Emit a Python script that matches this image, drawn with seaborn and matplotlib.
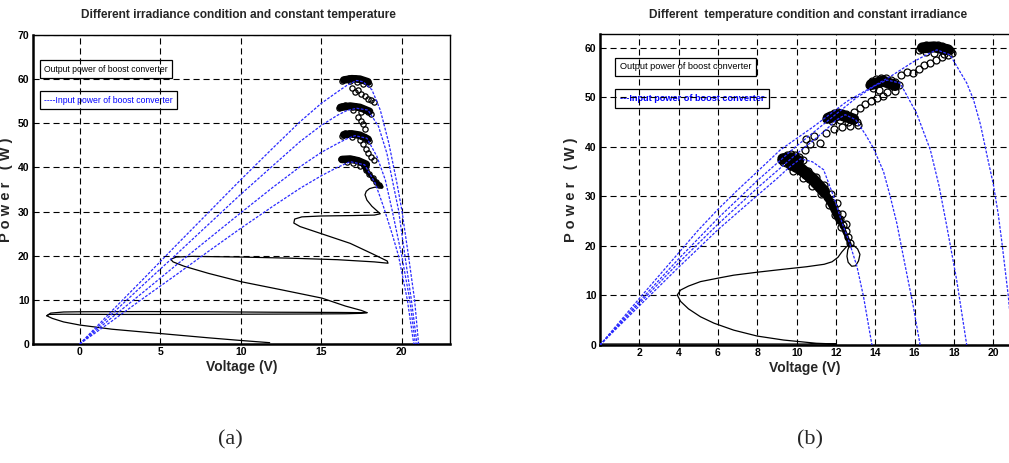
import numpy as np
import pandas as pd
import matplotlib
matplotlib.use("Agg")
import matplotlib.pyplot as plt
import seaborn as sns

# ---------------- (a) different irradiance, constant temperature ----------------
a_v1 = [0, 2, 4, 6, 8, 10, 12, 13.7, 15, 16, 16.6, 17.2, 17.6, 18.15, 18.67, 19.2, 19.7, 20.0, 20.4, 20.8, 21.05]
a_p1 = [0, 7.5, 14.9, 22.4, 29.8, 37.2, 44.4, 50.4, 54.5, 57.1, 58.6, 59.7, 59.4, 57.6, 53.0, 45.5, 36.5, 30.5, 20.5, 10.0, 0]
a_v2 = [0, 2, 4, 6, 8, 10, 12, 13.7, 15, 16, 16.6, 17.2, 17.9, 18.56, 19.08, 19.5, 19.8, 20.2, 20.6, 20.95]
a_p2 = [0, 6.8, 13.6, 20.3, 27.1, 33.9, 40.4, 45.9, 49.5, 51.8, 52.9, 53.4, 53.0, 49.3, 43.2, 35.7, 30.4, 20.0, 10.0, 0]
a_v3 = [0, 2, 4, 6, 8, 10, 12, 13.7, 15, 16, 16.6, 17.1, 17.84, 18.46, 18.98, 19.4, 20.0, 20.5, 20.85]
a_p3 = [0, 6.0, 11.9, 17.9, 23.8, 29.7, 35.5, 40.2, 43.4, 45.4, 46.5, 47.2, 46.6, 42.5, 37.2, 30.4, 20.0, 10.0, 0]
a_v4 = [0, 2, 4, 6, 8, 10, 12, 13.7, 15, 16, 16.8, 17.7, 18.36, 18.87, 19.4, 19.8, 20.35, 20.75]
a_p4 = [0, 5.2, 10.5, 15.7, 21.0, 26.2, 31.2, 35.3, 38.1, 40.0, 41.3, 40.6, 36.4, 31.1, 25.0, 20.0, 10.0, 0]

# output power trajectory (main path)
a_out_v = [11.8, 10, 8, 6, 4, 2, 0, -1.0, -1.7, -2.05, -1.9, -1.0, 2, 6, 10, 14, 16.5, 17.5, 17.85,
           17.5, 16.5, 15.04, 12.5, 10.04, 8, 6.5, 5.8, 5.65, 6.0, 7, 10, 13, 16, 18.3, 19.15,
           19.1, 18.2, 16.8, 15.0, 13.69, 13.3, 13.35, 13.8, 15, 17, 18.3, 18.67,
           18.15, 17.84, 17.72, 17.8, 18.0, 18.3, 18.75]
a_out_p = [0.3, 0.8, 1.4, 2.05, 2.7, 3.35, 4.3, 5.0, 5.8, 6.4, 6.7, 6.75, 6.7, 6.7, 6.75, 6.8, 6.85, 6.95, 7.1,
           7.6, 8.6, 10.4, 12.3, 14.1, 16.0, 17.6, 18.6, 19.2, 19.7, 19.85, 19.7, 19.45, 19.1, 18.6, 18.3,
           18.8, 20.4, 22.8, 25.0, 26.6, 27.4, 28.3, 28.8, 29.0, 29.1, 29.2, 29.5,
           31.2, 32.6, 33.8, 34.6, 35.2, 35.5, 35.6]
# upper edge of the first voltage swing
a_edge_v = [-2.05, -1.8, -1.0, 0, 4, 8, 12, 16, 17.5, 17.85]
a_edge_p = [6.4, 7.0, 7.25, 7.3, 7.35, 7.3, 7.2, 7.15, 7.1, 7.1]

# dense (solid-looking) parts of the output trace near the maximum power points
a_tail_v = [18.75, 18.4, 18.1, 17.8, 17.6]
a_tail_p = [35.6, 36.8, 38.0, 39.3, 40.3]
a_blob_v = [[16.3, 16.8, 17.3, 17.8], [16.4, 16.9, 17.4, 17.9], [16.2, 16.8, 17.4, 18.0], [16.4, 16.9, 17.4, 17.9]]
a_blob_p = [[41.8, 41.9, 41.5, 40.7], [47.4, 47.6, 47.3, 46.4], [53.6, 53.9, 53.6, 52.7], [59.8, 60.1, 60.0, 59.4]]

# circle markers around the maximum power points
a_ring_v = [16.2, 16.4, 16.6, 16.8, 17.0, 17.2, 17.4, 17.6, 17.8, 17.4, 17.0, 16.6,
            18.6, 18.4, 18.2, 18.0, 17.8,
            17.6, 17.8, 17.9, 18.1, 18.3,
            16.3, 16.5, 16.7, 16.9, 17.1, 17.3, 17.5, 17.7, 17.9, 18.0, 17.4, 16.9,
            17.3, 17.5, 17.6, 17.7,
            16.1, 16.3, 16.5, 16.7, 16.9, 17.1, 17.3, 17.5, 17.7, 17.9, 18.1, 17.5, 17.0,
            16.9, 17.1, 17.3, 17.5, 17.7, 17.9, 18.1, 18.25,
            16.3, 16.5, 16.7, 16.9, 17.1, 17.3, 17.5, 17.7, 17.9, 18.0, 17.6, 17.2, 16.8]
a_ring_p = [41.8, 42.0, 42.0, 41.8, 41.8, 41.6, 41.3, 41.0, 40.6, 40.4, 41.0, 41.3,
            36.0, 36.8, 37.6, 38.5, 39.4,
            45.2, 44.2, 43.3, 42.4, 41.6,
            47.2, 47.7, 47.8, 47.6, 47.5, 47.4, 47.1, 46.8, 46.4, 46.0, 46.3, 46.8,
            51.5, 50.6, 49.8, 48.8,
            53.5, 53.9, 54.1, 54.0, 53.8, 53.9, 53.6, 53.4, 53.0, 52.6, 52.2, 52.5, 53.1,
            58.0, 57.2, 57.5, 56.6, 56.2, 55.6, 55.2, 54.8,
            59.6, 60.0, 60.2, 60.1, 60.2, 60.0, 59.9, 59.6, 59.3, 59.0, 58.9, 59.3, 59.5]

# ---------------- (b) different temperature, constant irradiance ----------------
b_v1 = [0, 1, 2, 3, 4, 5, 6, 7, 8, 9.17, 10.86, 12.56, 14.76, 15.94, 16.6, 17.13, 17.8, 18.65, 18.99, 19.35, 19.67, 20.0, 20.25, 20.43, 20.76, 21.0]
b_p1 = [0, 4.7, 9.4, 14.0, 18.6, 23.2, 27.4, 31.3, 35.0, 39.4, 44.1, 49.2, 54.2, 57.2, 58.6, 59.6, 58.6, 52.9, 49.6, 44.5, 38.5, 32.5, 26.5, 21.0, 10.0, 0]
b_v2 = [0, 2, 4, 6, 8, 10, 12, 13, 14, 14.6, 15.26, 16.1, 16.8, 17.25, 17.64, 18.14, 18.65]
b_p2 = [0, 8.8, 17.4, 25.6, 33.2, 40.2, 46.6, 49.8, 52.4, 53.5, 52.9, 46.8, 39.4, 32.0, 23.9, 13.1, 0]
b_v3 = [0, 2, 4, 6, 8, 10, 11, 11.5, 12, 12.47, 13.0, 13.5, 13.9, 14.42, 14.76, 15.1, 15.52, 15.9, 16.28]
b_p3 = [0, 8.4, 16.6, 24.4, 31.7, 38.6, 41.8, 43.5, 45.4, 46.5, 45.5, 42.5, 39.8, 35.0, 30.0, 24.5, 16.0, 8.5, 0]
b_v4 = [0, 2, 4, 6, 8, 9, 9.6, 10.19, 10.8, 11.37, 11.88, 12.3, 12.7, 13.07, 13.4, 13.83]
b_p4 = [0, 7.9, 15.7, 23.3, 30.2, 33.6, 35.8, 37.6, 37.0, 35.4, 30.0, 24.8, 20.5, 15.8, 9.8, 0]

b_out_v = [0, 6, 12.0, 11.0, 9.34, 8, 6.8, 5.8, 5.11, 4.5, 4.1, 3.93, 4.1, 4.5, 5.11, 6, 6.8, 8, 9.34, 10.5,
           11.4, 11.8, 12.1, 12.3, 12.5, 12.64, 12.9, 13.1, 13.22, 13.15, 13.0, 12.8, 12.62, 12.56, 12.6, 12.7]
b_out_p = [0.2, 0.2, 0.2, 0.35, 1.0, 1.8, 3.0, 4.4, 5.7, 7.3, 8.8, 10.1, 11.1, 11.9, 12.8, 13.5, 14.1, 14.7, 15.3, 15.8,
           16.3, 16.8, 17.7, 18.8, 19.7, 20.2, 20.1, 19.4, 18.3, 17.0, 16.0, 15.9, 16.7, 17.9, 19.2, 20.2]

# dense band from the loop up to the first cluster (three widths) and the four clusters
b_band_v = [[12.7, 12.45, 12.2], [12.2, 11.8, 11.4], [11.4, 10.8, 10.2, 9.7]]
b_band_p = [[20.3, 22.8, 25.0], [25.0, 28.2, 31.0], [31.0, 33.6, 35.6, 36.6]]
b_blob_v = [[9.3, 9.7, 10.1], [11.6, 12.2, 12.9], [13.8, 14.4, 15.0], [16.4, 17.0, 17.7]]
b_blob_p = [[37.6, 37.8, 37.2], [45.8, 46.5, 45.6], [52.6, 53.3, 52.4], [60.0, 60.2, 59.6]]

b_ring_v = [9.2, 9.35, 9.5, 9.7, 9.9, 10.1, 10.3, 9.45, 9.75, 10.05, 9.3, 9.6, 9.9,
            12.7, 12.6, 12.5, 12.35, 12.2, 12.05, 11.9, 11.75, 11.55, 11.35, 11.15, 10.9, 10.65, 10.4, 10.15, 9.9, 9.65,
            12.25, 11.95, 11.65, 11.25, 10.8, 10.3, 9.8,
            12.5, 12.3, 12.05, 11.75, 11.4, 11.0, 10.6, 10.2,
            10.4, 10.7, 10.5, 10.9, 11.2, 11.5, 11.9, 12.3, 12.7, 13.1,
            11.5, 11.7, 11.9, 12.1, 12.3, 12.5, 12.7, 12.9, 13.05, 12.6, 12.2, 11.8,
            12.9, 13.2, 13.5, 13.8, 14.1, 14.4,
            13.7, 13.85, 14.05, 14.3, 14.55, 14.8, 15.0, 15.2, 15.0, 14.6, 14.2, 13.9,
            15.3, 15.6, 15.9, 16.2, 16.5, 16.8, 17.1, 17.4, 17.7,
            16.2, 16.4, 16.6, 16.8, 17.0, 17.2, 17.4, 17.6, 17.8, 17.9, 17.5, 17.0, 16.6]
b_ring_p = [37.3, 37.9, 38.4, 38.6, 38.3, 37.9, 37.3, 36.8, 36.6, 36.3, 36.9, 37.5, 37.2,
            20.5, 21.8, 23.0, 24.2, 25.4, 26.6, 27.8, 28.8, 29.8, 30.8, 31.8, 32.7, 33.6, 34.4, 35.1, 35.7, 36.2,
            23.8, 26.2, 28.3, 30.4, 32.2, 33.8, 35.2,
            24.5, 26.5, 28.6, 30.5, 32.3, 33.9, 35.2, 36.0,
            39.3, 40.6, 41.6, 42.3, 40.8, 42.9, 43.6, 44.1, 44.3, 44.5,
            45.7, 46.4, 46.9, 47.1, 46.9, 46.6, 46.2, 45.6, 45.0, 45.1, 45.4, 45.3,
            47.0, 47.8, 48.6, 49.3, 49.8, 50.3,
            52.5, 53.3, 53.8, 54.0, 53.9, 53.6, 53.1, 52.5, 51.3, 51.0, 51.4, 51.9,
            54.5, 55.2, 55.0, 55.8, 56.6, 57.0, 57.6, 58.2, 58.5,
            59.6, 60.2, 60.5, 60.4, 60.3, 60.5, 60.3, 60.0, 59.6, 59.0, 58.8, 59.0, 59.2]

a_xticks = [0, 5, 10, 15, 20]
a_yticks = [0, 10, 20, 30, 40, 50, 60, 70]
b_xticks = [2, 4, 6, 8, 10, 12, 14, 16, 18, 20]
b_yticks = [0, 10, 20, 30, 40, 50, 60]

title_a = "Different irradiance condition and constant temperature"
title_b = "Different  temperature condition and constant irradiance"
xlab = "Voltage (V)"
ylab = "P o w e r   ( W )"
leg_out = "Output power of boost converter"
leg_in_a = "----Input power of boost converter"
leg_in_b = "---Input power of boost converter"

# ---------------- drawing ----------------
sns.set_style("white")
NARROW = ["Liberation Sans Narrow", "Liberation Sans", "DejaVu Sans"]
plt.rcParams["font.family"] = NARROW

W, H = 1009, 463
fig = plt.figure(figsize=(W / 100, H / 100), dpi=100)
axA = fig.add_axes([33 / W, 1 - 344 / H, 417 / W, 309 / H])
axB = fig.add_axes([600 / W, 1 - 345 / H, 409 / W, 311 / H])

BLUE = "#2a2aff"
blue_ls = (0, (2.2, 1.2))


def blue(ax, v, p):
    sns.lineplot(x=v, y=p, ax=ax, color=BLUE, lw=0.9, linestyle=blue_ls,
                 sort=False, estimator=None, zorder=6)


def black(ax, v, p, lw=0.9, z=3):
    sns.lineplot(x=v, y=p, ax=ax, color="black", lw=lw, sort=False, estimator=None,
                 zorder=z, solid_capstyle="round", solid_joinstyle="round")


def rings(ax, v, p, ms):
    sns.lineplot(x=v, y=p, ax=ax, color="black", linestyle="none", marker="o",
                 markersize=ms, markerfacecolor="none", markeredgecolor="black",
                 markeredgewidth=0.9, sort=False, estimator=None, zorder=5)


for v, p in [(a_v1, a_p1), (a_v2, a_p2), (a_v3, a_p3), (a_v4, a_p4)]:
    blue(axA, v, p)
black(axA, a_out_v, a_out_p)
black(axA, a_edge_v, a_edge_p)
black(axA, a_tail_v, a_tail_p, lw=3.0, z=5)
for v, p in zip(a_blob_v, a_blob_p):
    black(axA, v, p, lw=5.5, z=5)
rings(axA, a_ring_v, a_ring_p, 3.8)

for v, p in [(b_v1, b_p1), (b_v2, b_p2), (b_v3, b_p3), (b_v4, b_p4)]:
    blue(axB, v, p)
black(axB, b_out_v, b_out_p)
for v, p, w in zip(b_band_v, b_band_p, [3.0, 5.5, 8.5]):
    black(axB, v, p, lw=w, z=5)
for v, p in zip(b_blob_v, b_blob_p):
    black(axB, v, p, lw=8, z=5)
rings(axB, b_ring_v, b_ring_p, 5.0)

grid_ls = (0, (5.5, 3.5))
for ax, xt, yt, xl, yl in [(axA, a_xticks, a_yticks, (-2.9, 23.0), (0, 70)),
                           (axB, b_xticks, b_yticks, (0, 20.8), (0, 62.8))]:
    ax.set_xlim(*xl)
    ax.set_ylim(*yl)
    ax.set_xticks(xt)
    ax.set_yticks(yt)
    ax.set_xticklabels([str(t) for t in xt], fontweight="bold", fontsize=7.5)
    ax.set_yticklabels([str(t) for t in yt], fontweight="bold", fontsize=7.5)
    ax.grid(True, color="black", linestyle=grid_ls, linewidth=0.8)
    ax.set_axisbelow(False)
    ax.tick_params(direction="in", length=3, width=0.8, pad=2.5, colors="black")
    ax.set_xlabel(xlab, fontsize=10, fontweight="bold", labelpad=2)
    ax.set_ylabel(ylab, fontsize=10.5, fontweight="bold")
    for s in ["left", "bottom"]:
        ax.spines[s].set_linewidth(1.8)
        ax.spines[s].set_color("black")
    for s in ["top", "right"]:
        ax.spines[s].set_linewidth(1.0)
        ax.spines[s].set_color("black")

axB.spines["right"].set_visible(False)
axA.yaxis.set_label_coords(-0.047, 0.5)
axB.yaxis.set_label_coords(-0.055, 0.5)

fig.text(238.5 / W, 1 - 15 / H, title_a, ha="center", va="center", fontsize=8.6, fontweight="bold")
fig.text(808 / W, 1 - 15 / H, title_b, ha="center", va="center", fontsize=8.6, fontweight="bold")

box = dict(boxstyle="square,pad=0.5", fc="white", ec="black", lw=0.9)
axA.text(0.027, 0.889, leg_out, transform=axA.transAxes, fontsize=6.2, color="black",
         va="center", ha="left", bbox=box, zorder=1)
axA.text(0.027, 0.789, leg_in_a, transform=axA.transAxes, fontsize=6.2, color="blue",
         va="center", ha="left", bbox=box, zorder=1)
axB.text(0.049, 0.8945, leg_out, transform=axB.transAxes, fontsize=6.6, color="black",
         va="center", ha="left", bbox=box, zorder=1)
axB.text(0.049, 0.7926, leg_in_b, transform=axB.transAxes, fontsize=6.6, color="blue",
         va="center", ha="left", bbox=box, zorder=1, fontweight="bold")

fig.text(230 / W, 1 - 440 / H, "(a)", ha="center", va="center", fontsize=16,
         family=["Liberation Serif", "DejaVu Serif"])
fig.text(810 / W, 1 - 440 / H, "(b)", ha="center", va="center", fontsize=16,
         family=["Liberation Serif", "DejaVu Serif"])

fig.savefig("out.png", dpi=100, facecolor="white")
